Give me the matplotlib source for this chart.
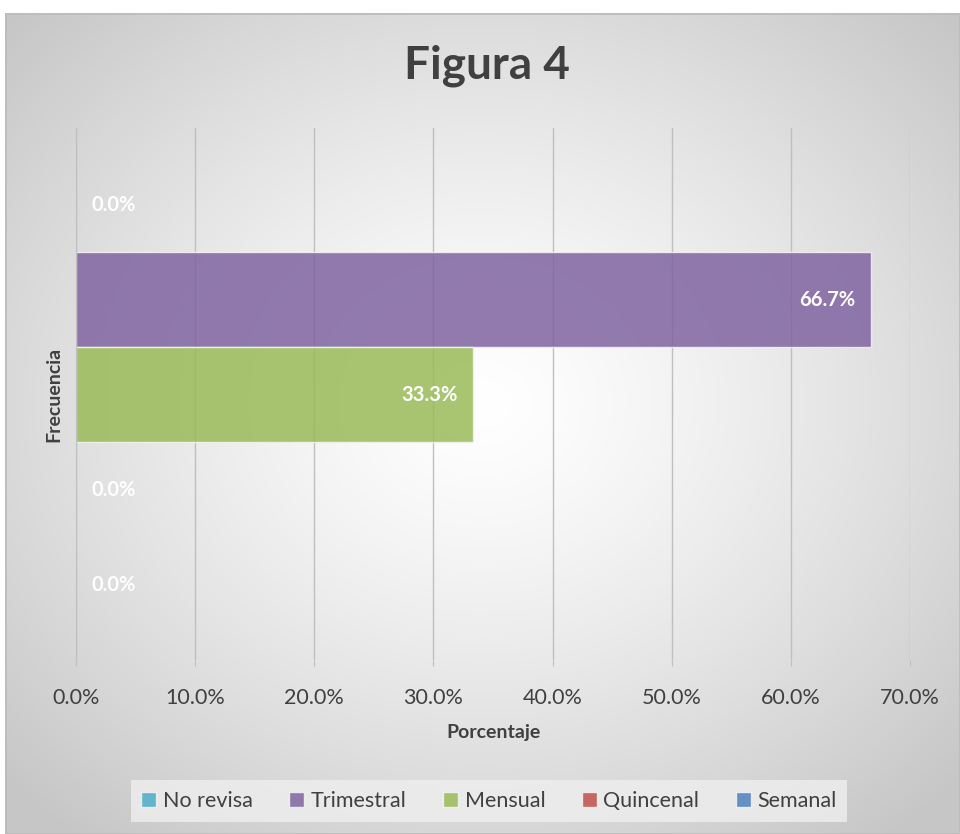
import numpy as np
import matplotlib
matplotlib.use("Agg")
import matplotlib.pyplot as plt
import matplotlib.ticker as mtick
from matplotlib.patches import Rectangle

plt.rcParams['font.family'] = ['Lato', 'DejaVu Sans']

# data (top to bottom)
series = ["No revisa", "Trimestral", "Mensual", "Quincenal", "Semanal"]
values = [0.0, 66.7, 33.3, 0.0, 0.0]
colors = ["#4bacc6", "#8064a2", "#9bbb59", "#c0504d", "#4f81bd"]
x_ticks = [0, 10, 20, 30, 40, 50, 60, 70]

W, H = 960, 834
fig = plt.figure(figsize=(W / 100, H / 100), dpi=100)
fig.patch.set_facecolor("white")

# chart background: radial gray gradient
bg = fig.add_axes([5 / W, 0, 1 - 5 / W, 1 - 13 / H])
yy, xx = np.mgrid[-1:1:400j, -1:1:400j]
r = np.sqrt(xx ** 2 + (yy + 0.05) ** 2)
shade = 1.0 - 0.22 * np.clip(r / 1.35, 0, 1) ** 1.3
bg.imshow(np.dstack([shade] * 3), extent=[0, 1, 0, 1], aspect="auto",
          interpolation="bilinear")
bg.add_patch(Rectangle((0, 0), 1, 1, transform=bg.transAxes, fill=False,
                       edgecolor="#bdbdbd", lw=2))
bg.set_axis_off()

ax = fig.add_axes([76 / W, 1 - 660 / H, (910 - 76) / W, (660 - 128) / H])
ax.patch.set_alpha(0)

ypos = np.arange(len(series))
bars = ax.barh(ypos, values, height=1.0, color=colors, alpha=0.85,
               edgecolor="#f4f4f4", linewidth=1, zorder=3)
for b, v in zip(bars, values):
    yc = b.get_y() + b.get_height() / 2
    if v > 0:
        ax.annotate(f"{v:.1f}%", (v, yc), xytext=(-11, 0), textcoords="offset points",
                    ha="right", va="center", color="white", fontsize=14.5,
                    fontweight="bold", zorder=4)
    else:
        b.set_linewidth(0)
        ax.annotate(f"{v:.1f}%", (0, yc), xytext=(11, 0), textcoords="offset points",
                    ha="left", va="center", color="white", fontsize=14.5,
                    fontweight="bold", zorder=4)

ax.set_xlim(0, 70)
ax.set_ylim(4.79, -0.81)
ax.set_xticks(x_ticks)
ax.xaxis.set_major_formatter(mtick.FuncFormatter(lambda v, p: f"{v:.1f}%"))
ax.tick_params(axis="x", length=4, color="#bfbfbf", labelsize=15.5,
               labelcolor="#404040", pad=16)
ax.set_yticks([])
ax.grid(axis="x", color="#bfbfbf", lw=1, zorder=0)
for s in ["top", "right", "bottom"]:
    ax.spines[s].set_visible(False)
ax.spines["left"].set_color("#bfbfbf")
ax.spines["left"].set_zorder(5)

ax.set_xlabel("Porcentaje", fontsize=14, fontweight="bold", color="#404040",
              labelpad=12)
ax.set_ylabel("Frecuencia", fontsize=14, fontweight="bold", color="#404040",
              labelpad=10)

fig.text(0.507, 1 - 66 / H, "Figura 4", ha="center", va="center",
         fontsize=33, fontweight="bold", color="#404040")

handles = [Rectangle((0, 0), 1, 1, facecolor=c, alpha=0.85, edgecolor="#f4f4f4")
           for c in colors]
leg = fig.legend(handles, series, loc="center", ncol=5,
                 bbox_to_anchor=(489 / W, 1 - 801 / H), frameon=True,
                 fontsize=15.5, handlelength=0.7, handleheight=0.7,
                 handletextpad=0.3, columnspacing=1.7, borderpad=0.5,
                 fancybox=False)
leg.get_frame().set_facecolor("#efefef")
leg.get_frame().set_edgecolor("none")
for t in leg.get_texts():
    t.set_color("#404040")

fig.savefig("out.png", dpi=100)
